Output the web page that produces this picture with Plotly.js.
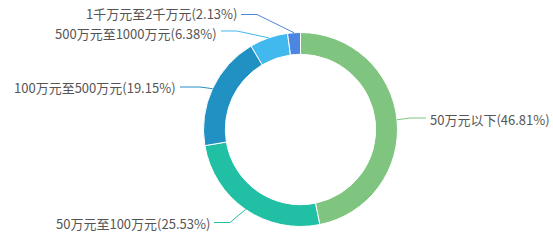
<!DOCTYPE html>
<html>
<head>
<meta charset="utf-8">
<script src="https://cdn.plot.ly/plotly-3.0.1.min.js"></script>
<style>html,body{margin:0;padding:0;background:#fff;}#chart{width:553px;height:250px;}</style>
</head>
<body>
<div id="chart"></div>
<script>
// ---- data ----
const categories = ["50万元以下", "50万元至100万元", "100万元至500万元", "500万元至1000万元", "1千万元至2千万元"];
const values = [46.81, 25.53, 19.15, 6.38, 2.13];
const colors = ["#7fc57f", "#21bfa3", "#2190c2", "#41b9ef", "#4b86e2"];

// ---- label layout (pixel positions of elbow / text, not data) ----
const labelLayout = [
  {elbow: [410, 118], end: [426, 118], textY: 119, side: "right"},
  {elbow: [230, 222.5], end: [214, 222.5], textY: 223, side: "left"},
  {elbow: [200, 87], end: [180, 87], textY: 87, side: "left"},
  {elbow: [237, 31], end: [221, 31], textY: 33, side: "left"},
  {elbow: [257, 14.5], end: [241, 14.5], textY: 13.5, side: "left"}
];

const W = 553, H = 250;
const cx = 300.5, cy = 129.5, R = 97;
const px = x => x / W, py = y => 1 - y / H;

const total = values.reduce((a, b) => a + b, 0);
let cum = 0;
const shapes = [], annotations = [];
values.forEach((v, i) => {
  const mid = (cum + v / 2) / total * 2 * Math.PI; // clockwise from top
  cum += v;
  const rx = cx + R * Math.sin(mid), ry = cy - R * Math.cos(mid);
  const L = labelLayout[i];
  shapes.push({
    type: "path", xref: "paper", yref: "paper",
    path: `M ${px(rx)} ${py(ry)} L ${px(L.elbow[0])} ${py(L.elbow[1])} L ${px(L.end[0])} ${py(L.end[1])}`,
    line: {color: colors[i], width: 1}
  });
  const label = categories[i] + "(" + v.toFixed(2) + "%)";
  annotations.push({
    xref: "paper", yref: "paper",
    x: px(L.end[0] + (L.side === "left" ? -3 : 3)), y: py(L.textY),
    xanchor: L.side === "left" ? "right" : "left", yanchor: "middle",
    text: label, showarrow: false, borderpad: 0,
    font: {family: "Noto Sans CJK SC, sans-serif", size: 13, color: "#555555"}
  });
});

const trace = {
  type: "pie",
  labels: categories,
  values: values,
  sort: false,
  direction: "clockwise",
  rotation: 0,
  hole: 0.775,
  textinfo: "none",
  hoverinfo: "none",
  marker: {colors: colors, line: {color: "#ffffff", width: 1}},
  domain: {x: [(cx - R) / W, (cx + R) / W], y: [1 - (cy + R) / H, 1 - (cy - R) / H]},
  showlegend: false
};

Plotly.newPlot("chart", [trace], {
  width: W, height: H,
  margin: {l: 0, r: 0, t: 0, b: 0},
  paper_bgcolor: "#ffffff",
  showlegend: false,
  shapes: shapes,
  annotations: annotations
}, {staticPlot: true});
</script>
</body>
</html>
